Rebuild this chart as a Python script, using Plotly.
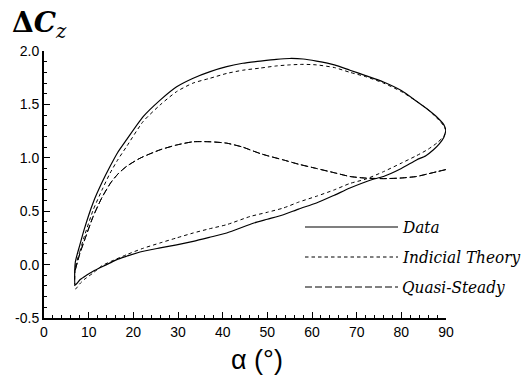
import plotly.graph_objects as go

# ---------------- data ----------------
data_up_a = [7, 8, 9, 11, 13, 14.8, 16.5, 18.5, 22.2, 26, 29.7, 33.4, 37.2, 40.9, 44.5,
             48.4, 52, 55, 58, 61, 65, 68.5, 72, 76, 80, 83.4, 86, 88, 89.5, 90]
data_up_v = [0.02, 0.18, 0.33, 0.58, 0.77, 0.92, 1.05, 1.17, 1.385, 1.54, 1.665, 1.745, 1.807,
             1.853, 1.885, 1.905, 1.922, 1.93, 1.925, 1.905, 1.87, 1.82, 1.77, 1.71, 1.63,
             1.53, 1.45, 1.38, 1.31, 1.26]
data_dn_a = [90, 89.5, 88.5, 87.2, 85.5, 83.4, 80, 76, 73, 68.5, 65, 61, 57, 53.6, 50, 47,
             40.9, 37, 33.4, 29.7, 26, 21.5, 18.5, 16.3, 14.8, 13, 11, 9.5, 8.1, 7, 7]
data_dn_v = [1.26, 1.19, 1.13, 1.075, 1.02, 0.98, 0.90, 0.825, 0.79, 0.717, 0.65, 0.577, 0.52,
             0.467, 0.425, 0.39, 0.296, 0.255, 0.218, 0.185, 0.156, 0.118, 0.078, 0.047,
             0.016, -0.02, -0.062, -0.10, -0.14, -0.19, 0.02]

ind_up_a = [7, 8, 9, 11, 13, 14.8, 16.5, 18.5, 22.2, 26, 29.7, 33.4, 37.2, 40.9, 44.5,
            48.4, 52, 55, 58, 61, 65, 68.5, 72, 76, 80, 83.4, 86, 88, 89.5, 90]
ind_up_v = [-0.03, 0.12, 0.26, 0.51, 0.70, 0.857, 0.98, 1.106, 1.34, 1.495, 1.62, 1.70, 1.745,
            1.79, 1.82, 1.84, 1.86, 1.87, 1.875, 1.87, 1.845, 1.80, 1.76, 1.70, 1.62, 1.53,
            1.45, 1.37, 1.30, 1.25]
ind_dn_a = [90, 89.5, 88, 86, 83.4, 80, 76, 72, 68.5, 65, 61, 57, 53.6, 50, 46.1, 40.9, 37,
            33.4, 29.7, 26, 22, 18.5, 15, 13, 11, 9, 8, 7, 7]
ind_dn_v = [1.25, 1.20, 1.14, 1.08, 1.02, 0.95, 0.87, 0.80, 0.76, 0.70, 0.64, 0.585, 0.53,
            0.49, 0.45, 0.374, 0.335, 0.296, 0.25, 0.203, 0.15, 0.093, 0.03, -0.01, -0.078,
            -0.14, -0.18, -0.23, -0.03]

qs_a = [7, 8, 9, 11, 13, 15, 16.7, 18.5, 21, 22.2, 26, 29.7, 33.4, 37.2, 40.9, 44.5, 46.1,
        48.4, 50, 53.6, 57, 61, 65, 68.5, 72, 76, 79.7, 83.4, 86, 88, 90]
qs_v = [-0.05, 0.10, 0.22, 0.45, 0.63, 0.77, 0.855, 0.92, 0.985, 1.01, 1.075, 1.12, 1.15, 1.15,
        1.137, 1.10, 1.075, 1.04, 1.02, 0.98, 0.94, 0.90, 0.86, 0.825, 0.81, 0.805, 0.81,
        0.825, 0.85, 0.87, 0.89]

y_ticks = [-0.5, 0.0, 0.5, 1.0, 1.5, 2.0]
y_tick_text = ["-0.5", "0.0", "0.5", "1.0", "1.5", "2.0"]
x_ticks = [0, 10, 20, 30, 40, 50, 60, 70, 80, 90]
legend_names = ["Data", "Indicial Theory", "Quasi-Steady"]

# ---------------- figure ----------------
SERIF = "DejaVu Serif Condensed, DejaVu Serif"
SANS = "Arial, Liberation Sans, sans-serif"
SOLID = "solid"
SHORT = "3.5px,3px"
LONG = "7px,3px"
line_styles = [SOLID, SHORT, LONG]

fig = go.Figure()
fig.add_trace(go.Scatter(x=data_up_a + data_dn_a, y=data_up_v + data_dn_v, mode="lines",
                         line=dict(color="black", width=1.2, dash=SOLID, shape="spline", smoothing=0.6)))
fig.add_trace(go.Scatter(x=ind_up_a + ind_dn_a, y=ind_up_v + ind_dn_v, mode="lines",
                         line=dict(color="black", width=1, dash=SHORT, shape="spline", smoothing=0.6)))
fig.add_trace(go.Scatter(x=qs_a, y=qs_v, mode="lines",
                         line=dict(color="black", width=1, dash=LONG, shape="spline", smoothing=0.6)))
fig.add_trace(go.Scatter(x=qs_a[::-1], y=qs_v[::-1], mode="lines",
                         line=dict(color="black", width=1, dash=LONG, shape="spline", smoothing=0.6)))

W, H = 529, 379
L, R, T, B = 44, 446, 51, 318

def px_x(p):
    return (p - L) / (R - L)

def px_y(p):
    return (B - p) / (B - T)

shapes = []
annotations = []
leg_y = [227, 257, 287]
for name, dash, yy in zip(legend_names, line_styles, leg_y):
    shapes.append(dict(type="line", xref="paper", yref="paper",
                       x0=px_x(305), x1=px_x(398), y0=px_y(yy), y1=px_y(yy),
                       line=dict(color="black", width=1.2 if dash == SOLID else 1, dash=dash)))
    annotations.append(dict(xref="paper", yref="paper", x=px_x(400), y=px_y(yy),
                            xanchor="left", yanchor="middle", showarrow=False,
                            text="<i>" + name + "</i>",
                            font=dict(family=SERIF, size=17, color="black")))

annotations.append(dict(xref="paper", yref="paper", x=px_x(10), y=px_y(25),
                        xanchor="left", yanchor="middle", showarrow=False,
                        text="<b>Δ<i>C</i></b><sub><i>z</i></sub>",
                        font=dict(family="DejaVu Serif", size=28, color="black")))
annotations.append(dict(xref="paper", yref="paper", x=px_x(257), y=px_y(360),
                        xanchor="center", yanchor="middle", showarrow=False,
                        text="α (°)",
                        font=dict(family=SANS, size=27, color="black")))

axis_common = dict(showline=True, linecolor="black", linewidth=2, showgrid=False,
                   zeroline=False, ticks="inside", tickcolor="black", tickwidth=1.2,
                   ticklen=6, mirror=False,
                   tickfont=dict(family=SANS, size=14, color="black"))

fig.update_layout(
    width=W, height=H,
    margin=dict(l=L, r=W - R, t=T, b=H - B, pad=0),
    paper_bgcolor="white", plot_bgcolor="white",
    showlegend=False,
    xaxis=dict(range=[0, 90], tickvals=x_ticks,
               minor=dict(dtick=2, ticks="inside", ticklen=3, tickcolor="black", tickwidth=1),
               **axis_common),
    yaxis=dict(range=[-0.5, 2.0], tickvals=y_ticks, ticktext=y_tick_text,
               minor=dict(dtick=0.1, ticks="inside", ticklen=3, tickcolor="black", tickwidth=1),
               **axis_common),
    shapes=shapes,
    annotations=annotations,
)

fig.write_html("out.html")
